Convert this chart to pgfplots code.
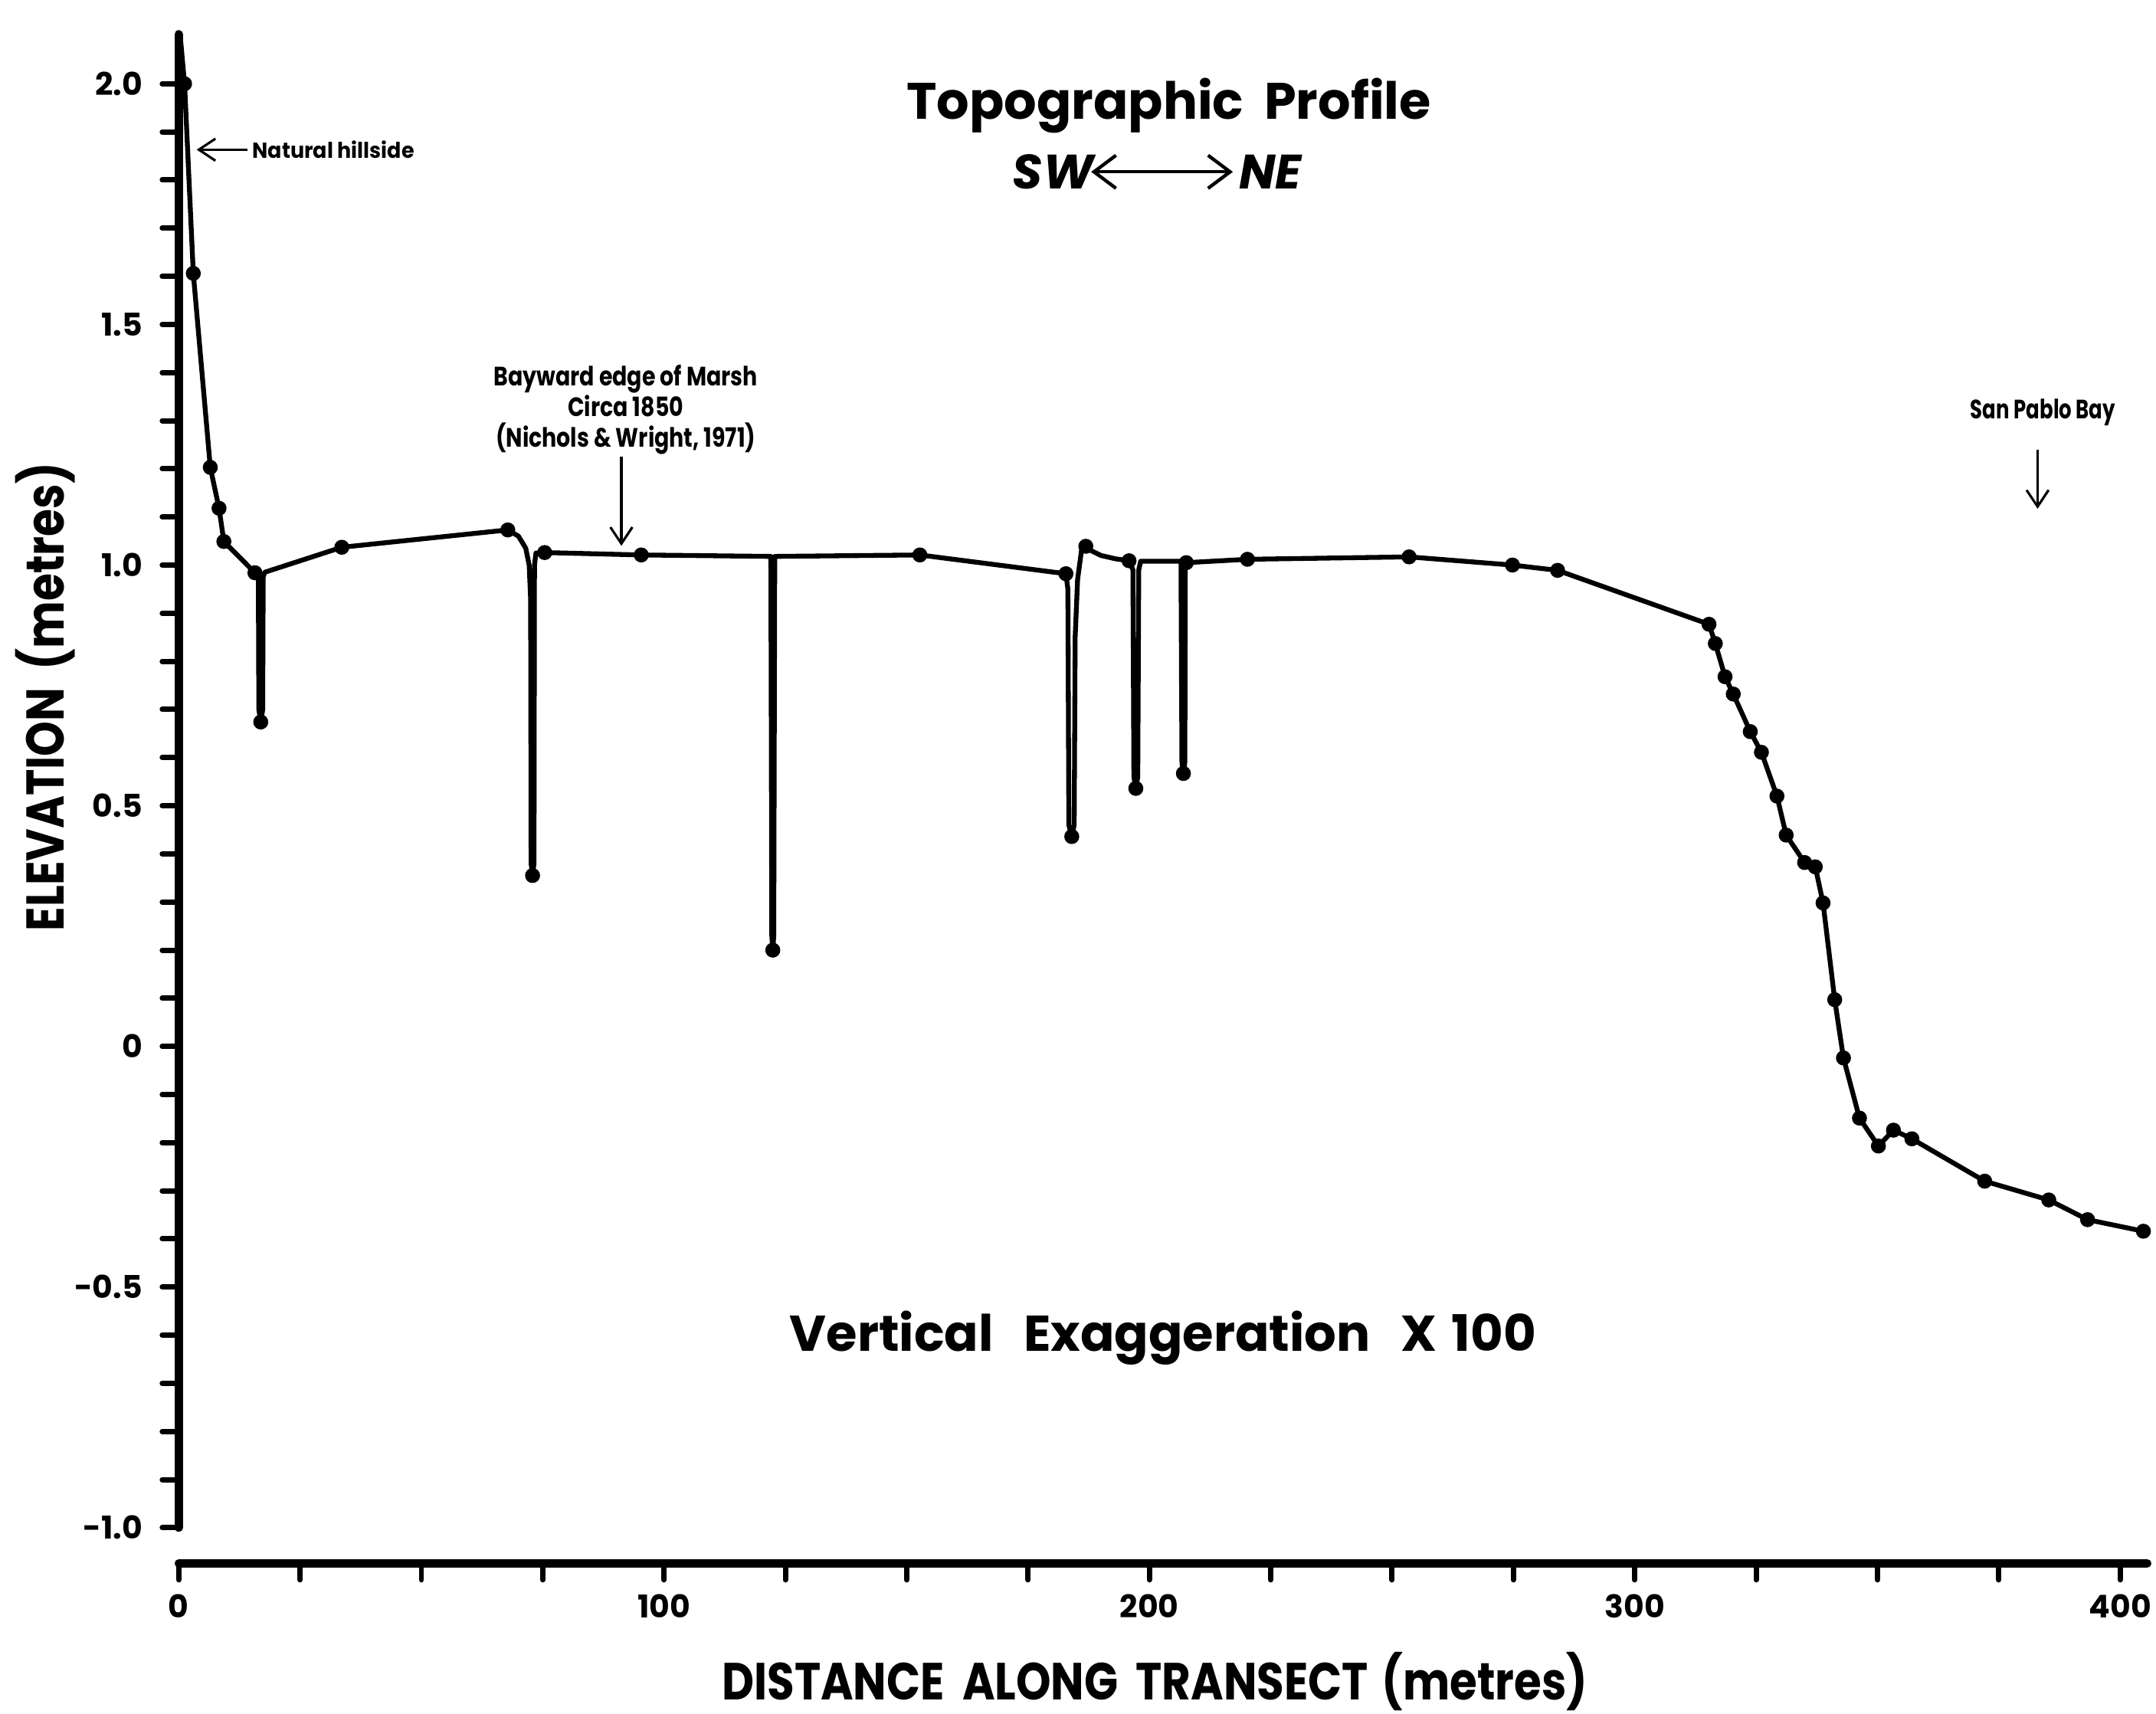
\documentclass[border=0pt]{standalone}
\usepackage{fontspec}
\setmainfont{Poppins}
\usepackage{pgfplots}
\pgfplotsset{compat=1.18}
\usetikzlibrary{arrows.meta}

\pgfplotstableread{
x y
0.3 2.10
1.2 2.00
3.0 1.606
6.5 1.203
8.3 1.118
9.3 1.049
15.7 0.984
16.4 0.975
16.5 0.70
16.9 0.674
17.3 0.70
17.4 0.975
17.7 0.985
33.6 1.037
67.8 1.073
70.0 1.060
71.5 1.035
72.2 1.000
72.5 0.93
72.6 0.38
72.9 0.355
73.2 0.38
73.3 1.00
73.6 1.025
75.4 1.026
95.3 1.021
122.0 1.018
122.2 0.23
122.4 0.20
122.6 0.23
122.8 1.018
152.7 1.021
182.8 0.982
183.2 0.95
183.4 0.46
184.0 0.436
184.5 0.46
184.7 0.85
185.2 0.97
186.0 1.03
186.9 1.039
188.0 1.030
190.0 1.020
193.0 1.013
195.8 1.009
196.6 0.99
196.8 0.56
197.2 0.536
197.6 0.56
197.8 0.99
198.2 1.008
206.5 1.008
206.7 0.59
207.0 0.567
207.3 0.59
207.4 1.000
207.6 1.005
220.2 1.012
253.5 1.017
274.8 1.000
284.1 0.989
315.3 0.877
316.6 0.837
318.6 0.768
320.3 0.732
323.8 0.654
326.1 0.611
329.3 0.520
331.2 0.439
335.0 0.382
337.2 0.373
338.8 0.298
341.2 0.097
343.0 -0.024
346.3 -0.149
350.2 -0.207
353.3 -0.174
357.1 -0.192
372.1 -0.280
385.3 -0.319
393.3 -0.360
404.8 -0.384
}\profile

\pgfplotstableread{
x y
1.2 2.00
3.0 1.606
6.5 1.203
8.3 1.118
9.3 1.049
15.7 0.984
16.9 0.674
33.6 1.037
67.8 1.073
72.9 0.355
75.4 1.026
95.3 1.021
122.4 0.20
152.7 1.021
182.8 0.982
184.0 0.436
186.9 1.039
195.8 1.009
197.2 0.536
207.0 0.567
207.6 1.005
220.2 1.012
253.5 1.017
274.8 1.000
284.1 0.989
315.3 0.877
316.6 0.837
318.6 0.768
320.3 0.732
323.8 0.654
326.1 0.611
329.3 0.520
331.2 0.439
335.0 0.382
337.2 0.373
338.8 0.298
341.2 0.097
343.0 -0.024
346.3 -0.149
350.2 -0.207
353.3 -0.174
357.1 -0.192
372.1 -0.280
385.3 -0.319
393.3 -0.360
404.8 -0.384
}\points

\begin{document}
\begin{tikzpicture}
\begin{axis}[
  x=0.0353cm, y=3.5cm,
  xmin=0, xmax=405.6, ymin=-1.074, ymax=2.103,
  axis x line*=bottom, axis y line*=left,
  axis line style={draw=none},
  clip=false,
  tick align=outside,
  major tick length=1.2mm, minor tick length=1.2mm,
  every tick/.style={black, line width=1.1pt, line cap=round},
  xtick={0,100,200,300,400},
  xticklabels={0,100,200,300,400},
  minor x tick num=3,
  ytick={-1,-0.5,0,0.5,1,1.5,2},
  yticklabels={-1.0,-0.5,0,0.5,1.0,1.5,2.0},
  minor y tick num=4,
  /pgf/number format/assume math mode=true,
  ticklabel style={font=\bfseries\fontsize{6.5}{7}\selectfont},
  xticklabel style={yshift=0.2mm},
  yticklabel style={xshift=-0.2mm},
]
\draw[line width=1.7pt, line cap=round] (axis cs:0,-1.0) -- (axis cs:0,2.103);
\draw[line width=1.7pt, line cap=round] (axis cs:0,-1.074) -- (axis cs:405.6,-1.074);

\addplot[black, line width=1.0pt, line join=round] table {\profile};
\addplot[only marks, mark=*, mark size=1.35pt, black] table {\points};

% annotations
\draw[-{Straight Barb[length=1.2mm,width=1.6mm]}, line width=0.5pt] (axis cs:14.2,1.863) -- (axis cs:3.7,1.863);
\node[anchor=west, font=\bfseries\fontsize{4.5}{5}\selectfont, xscale=0.95, inner sep=0pt] at (axis cs:15.0,1.863) {Natural hillside};

\node[align=center, font=\bfseries\fontsize{5.5}{6.3}\selectfont, xscale=0.82, inner sep=0pt] at (axis cs:92.1,1.323) {Bayward edge of Marsh\\Circa 1850\\(Nichols \& Wright, 1971)};
\draw[-{Straight Barb[length=1.2mm,width=1.6mm]}, line width=0.5pt] (axis cs:91.2,1.226) -- (axis cs:91.2,1.04);

\node[font=\bfseries\fontsize{5.5}{6.3}\selectfont, xscale=0.75, inner sep=0pt] at (axis cs:384.1,1.317) {San Pablo Bay};
\draw[-{Straight Barb[length=1.2mm,width=1.6mm]}, line width=0.5pt] (axis cs:383.0,1.24) -- (axis cs:383.0,1.117);

\node[font=\bfseries\fontsize{10.6}{12}\selectfont, inner sep=0pt] at (axis cs:204.0,1.954) {Topographic\hspace{0.4em}Profile};
\node[font=\bfseries\itshape\fontsize{10}{12}\selectfont, inner sep=0pt] at (axis cs:180.2,1.817) {SW};
\node[font=\bfseries\itshape\fontsize{10}{12}\selectfont, inner sep=0pt] at (axis cs:224.9,1.817) {NE};
\draw[{Straight Barb[length=1.6mm,width=2.4mm]}-{Straight Barb[length=1.6mm,width=2.4mm]}, line width=0.7pt] (axis cs:188.0,1.817) -- (axis cs:217.2,1.817);

\node[font=\bfseries\fontsize{10.4}{12}\selectfont, inner sep=0pt] at (axis cs:202.8,-0.606) {Vertical\hspace{0.6em}Exaggeration\hspace{0.6em}X\hspace{0.3em}100};

\node[font=\bfseries\fontsize{10.8}{13}\selectfont, xscale=0.85, inner sep=0pt] at (axis cs:201.1,-1.320) {DISTANCE\hspace{0.4em}ALONG\hspace{0.4em}TRANSECT\hspace{0.3em}(metres)};
\node[font=\bfseries\fontsize{11}{13}\selectfont, rotate=90, xscale=0.84, inner sep=0pt] at (axis cs:-27.5,0.726) {ELEVATION\hspace{0.4em}(metres)};

\coordinate (BBa) at (axis cs:-36.83,-1.386);
\coordinate (BBb) at (axis cs:407.4,2.174);
\end{axis}
\pgfresetboundingbox
\path[use as bounding box] (BBa) rectangle (BBb);
\end{tikzpicture}
\end{document}
